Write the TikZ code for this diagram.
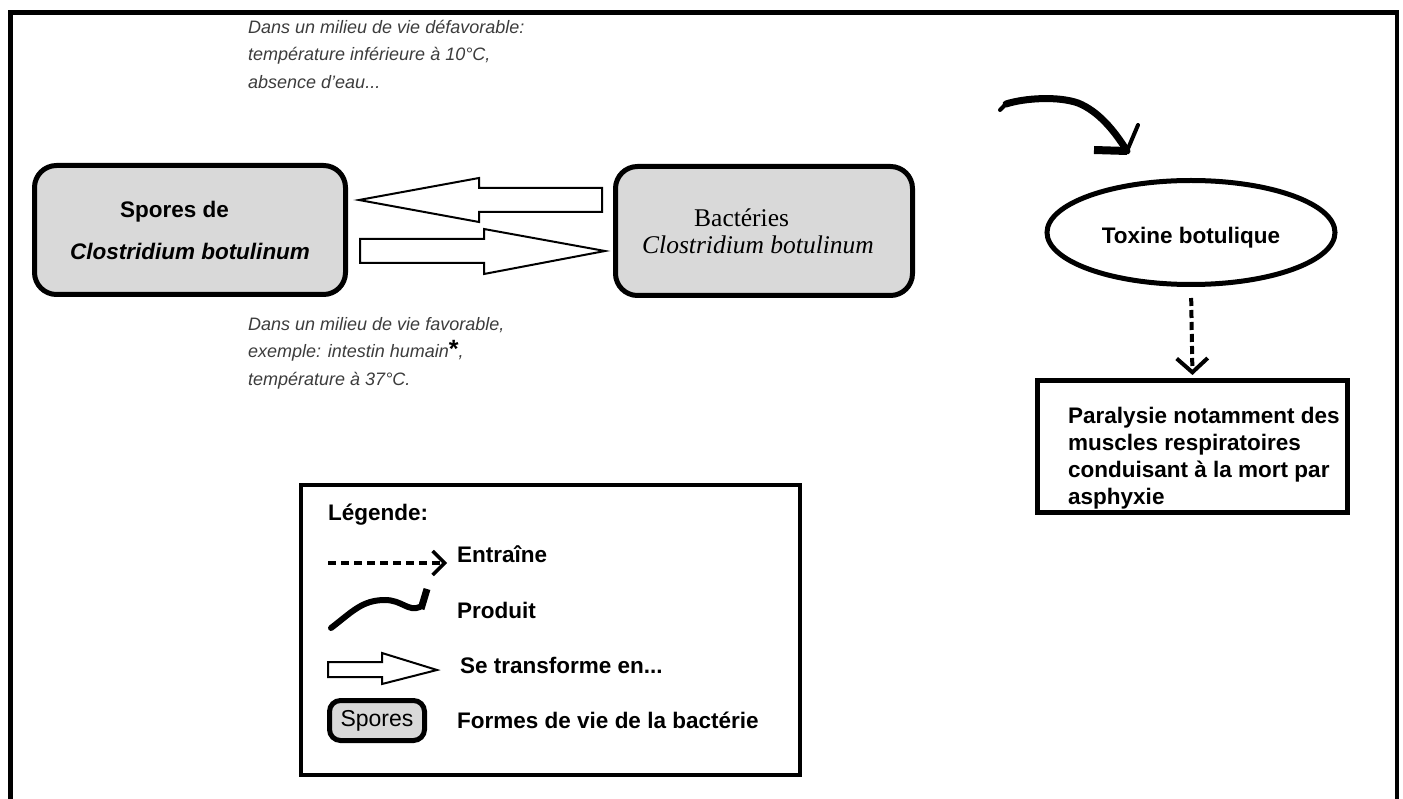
\documentclass[tikz,border=0pt]{standalone}
\usepackage{fontspec}
\setmainfont{Liberation Sans}
\newfontfamily\serifpart{Liberation Serif}
\usetikzlibrary{shapes.geometric,arrows.meta}
\definecolor{formgray}{RGB}{217,217,217}
\definecolor{notegray}{RGB}{60,60,60}
\tikzset{
  lifeform/.style={draw, line width=5pt, rounded corners=22pt, fill=formgray, inner sep=0pt},
  effectbox/.style={draw, line width=5pt, inner sep=0pt},
  openarrow/.style={draw, line width=2pt, fill=white, line join=miter},
  produces/.style={line width=7pt, line cap=round},
  leads/.style={line width=4pt, dash pattern=on 8pt off 4pt, -{Straight Barb[length=14pt,width=31pt,line width=4pt]}},
  note/.style={anchor=north west, inner sep=0pt, text=notegray, align=left, font=\fontsize{18}{27.5}\selectfont\itshape},
  legtext/.style={anchor=base west, inner sep=0pt, font=\fontsize{22.5}{26}\selectfont\bfseries},
}
\begin{document}
\begin{tikzpicture}[x=1pt, y=-1pt]
        \useasboundingbox (0,0) rectangle (1403,799);
        % Frame
        \draw[line width=4.5pt] (10.5,799) |- (1397,12.5) -- (1397,799);

        % Nodes
        \node[lifeform, minimum width=311, minimum height=129, align=left,
              font=\fontsize{22.5}{42}\selectfont\bfseries] (spores) at (190,230)
              {\hspace*{50pt}Spores de\\\textit{Clostridium botulinum}};
        \node[lifeform, minimum width=297, minimum height=129, align=left,
              font=\fontsize{25.5}{27}\selectfont\serifpart] (bacteries) at (764,231)
              {\hspace*{52pt}Bactéries\\\textit{Clostridium botulinum}\hspace*{12pt}};
        \node[ellipse, draw, line width=5pt, minimum width=288, minimum height=104, inner sep=0pt,
              text height=27pt, font=\fontsize{22.5}{27}\selectfont\bfseries] (toxine) at (1191,232.5) {Toxine botulique};
        \node[effectbox, minimum width=310, minimum height=132] (paralysie) at (1192.5,446.5) {};
        \node[anchor=north west, inner sep=0pt, align=left, font=\fontsize{22.5}{27}\selectfont\bfseries]
              (paratext) at (1068,406.5) {Paralysie notamment des\\muscles respiratoires\\conduisant à la mort par\\asphyxie};

        % Conditions
        \node[note] (unfavourable) at (248,20) {Dans un milieu de vie défavorable:\\température inférieure à 10°C,\\absence d'eau...};
        \node[note] (favourable) at (248,317) {Dans un milieu de vie favorable,\\exemple: intestin humain{\upshape\bfseries\color{black}\fontsize{25}{25}\selectfont *},\\température à 37°C.};

        % Transformation arrows
        \coordinate (backtip) at ([shift={(11,-30)}]spores.east);
        \coordinate (fwdtip) at ([shift={(-8,20)}]bacteries.west);
        \draw[openarrow] (backtip) -- ++(120,-22) -- ++(0,10) -- ++(123,0) -- ++(0,24) -- ++(-123,0) -- ++(0,10) -- cycle;
        \draw[openarrow] (fwdtip) -- ++(-121,-22) -- ++(0,10) -- ++(-124,0) -- ++(0,24) -- ++(124,0) -- ++(0,11) -- cycle;

        % Produces
        \coordinate (prodstart) at (1000,110);
        \coordinate (prodend) at (1127,151);
        \draw[line width=4pt, line cap=round] (prodstart) -- ++(6,-6);
        \draw[produces] ([shift={(6,-6)}]prodstart) .. controls (1025,98) and (1058,96) .. (1078,103)
                                    .. controls (1098,111) and (1114,130) .. (prodend);
        \draw[line width=4pt, line cap=round] (prodend) -- ++(11,-26);
        \draw[line width=8pt] (prodend) -- ++(-33,-1);

        % Leads to
        \draw[leads, shorten <=11pt, shorten >=3pt] (toxine.south) -- (paralysie.north);

        % Legend
        \node[draw, line width=4pt, minimum width=499, minimum height=290, inner sep=0pt] (legend) at (550.5,630) {};
        \node[legtext] (legtitle) at (328,520) {Légende:};
        \coordinate (legdashstart) at (328,563);
        \coordinate (legdashend) at (447,563);
        \draw[line width=3.5pt, dash pattern=on 8pt off 5pt, -{Straight Barb[length=12pt,width=24pt,line width=3.5pt]}] (legdashstart) -- (legdashend);
        \node[legtext] (legleads) at (457,562) {Entraîne};
        \coordinate (legprodstart) at (331,628);
        \coordinate (legprodend) at (420,607);
        \draw[line width=6pt, line cap=round] (legprodstart) .. controls (352,612) and (362,600) .. (385,600)
                                              .. controls (402,600) and (408,612) .. (legprodend);
        \draw[line width=7pt] (421,609) -- (427,589);
        \node[legtext] (legprod) at (457,618) {Produit};
        \coordinate (legtip) at (437,670);
        \draw[openarrow] (legtip) -- ++(-55,-17) -- ++(0,9) -- ++(-54,0) -- ++(0,15) -- ++(54,0) -- ++(0,7) -- cycle;
        \node[legtext] (legtransform) at (460,673) {Se transforme en...};
        \node[lifeform, rounded corners=11pt, minimum width=95, minimum height=40,
              font=\fontsize{23}{26}\selectfont] (legspores) at (377,720.5) {Spores};
        \node[legtext] (legforms) at (457,728) {Formes de vie de la bactérie};
\end{tikzpicture}
\end{document}
